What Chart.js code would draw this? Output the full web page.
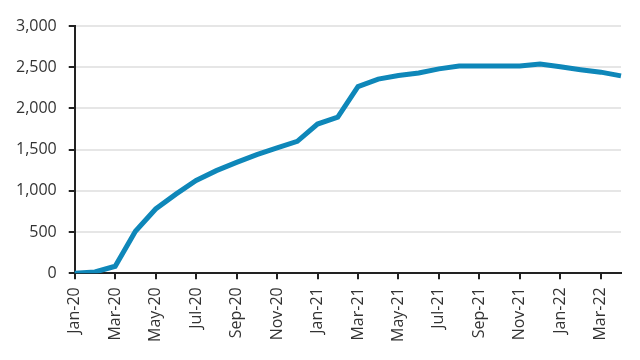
<!DOCTYPE html>
<html>
<head>
<meta charset="utf-8">
<script src="https://cdn.jsdelivr.net/npm/chart.js@4"></script>
<style>
  html, body { margin: 0; padding: 0; background: #fff; }
  #wrap { width: 640px; height: 360px; }
</style>
</head>
<body>
<div id="wrap"><canvas id="lineChart" width="640" height="360"></canvas></div>
<script>
// 月ラベル
const months = [
    'Jan-20', 'Feb-20', 'Mar-20', 'Apr-20', 'May-20', 'Jun-20', 'Jul-20', 'Aug-20', 'Sep-20', 'Oct-20', 'Nov-20', 'Dec-20',
    'Jan-21', 'Feb-21', 'Mar-21', 'Apr-21', 'May-21', 'Jun-21', 'Jul-21', 'Aug-21', 'Sep-21', 'Oct-21', 'Nov-21', 'Dec-21',
    'Jan-22', 'Feb-22', 'Mar-22', 'Apr-22'
];

// 値
const values = [
    0, 15, 85, 510, 780, 960, 1125, 1245, 1345, 1440, 1520, 1600,
    1810, 1895, 2265, 2355, 2400, 2430, 2480, 2515, 2515, 2515, 2515, 2540,
    2505, 2470, 2440, 2395
];

// Y軸目盛り
const yMin = 0;
const yMax = 3000;
const yStep = 500;

const axisColor = '#222222';
const textColor = '#333333';
const gridColor = '#e6e6e6';
const lineColor = '#0e87b9';

Chart.defaults.font.family = "'Open Sans', 'Noto Sans', sans-serif";
Chart.defaults.font.size = 16;
Chart.defaults.color = textColor;

const ctx = document.getElementById('lineChart').getContext('2d');
new Chart(ctx, {
    type: 'line',
    data: {
        labels: months,
        datasets: [{
            data: values,
            borderColor: lineColor,
            borderWidth: 5,
            pointRadius: 0,
            tension: 0,
            fill: false
        }]
    },
    options: {
        responsive: false,
        animation: false,
        layout: { padding: { left: 4, right: 19, top: 26, bottom: 10 } },
        plugins: { legend: { display: false }, tooltip: { enabled: false } },
        scales: {
            x: {
                offset: false,
                border: { display: true, color: axisColor, width: 2 },
                grid: {
                    drawOnChartArea: false,
                    drawTicks: true,
                    tickLength: 6,
                    color: axisColor,
                    lineWidth: 2
                },
                ticks: {
                    autoSkip: false,
                    minRotation: 90,
                    maxRotation: 90,
                    padding: 8,
                    callback: (v, i) => (i % 2 === 0 ? months[i] : null)
                }
            },
            y: {
                min: yMin,
                max: yMax,
                border: { display: true, color: axisColor, width: 2 },
                grid: {
                    color: gridColor,
                    lineWidth: 2,
                    tickLength: 6,
                    tickColor: axisColor
                },
                ticks: {
                    stepSize: yStep,
                    padding: 12,
                    callback: v => v.toLocaleString('en-US')
                }
            }
        }
    }
});
</script>
</body>
</html>
